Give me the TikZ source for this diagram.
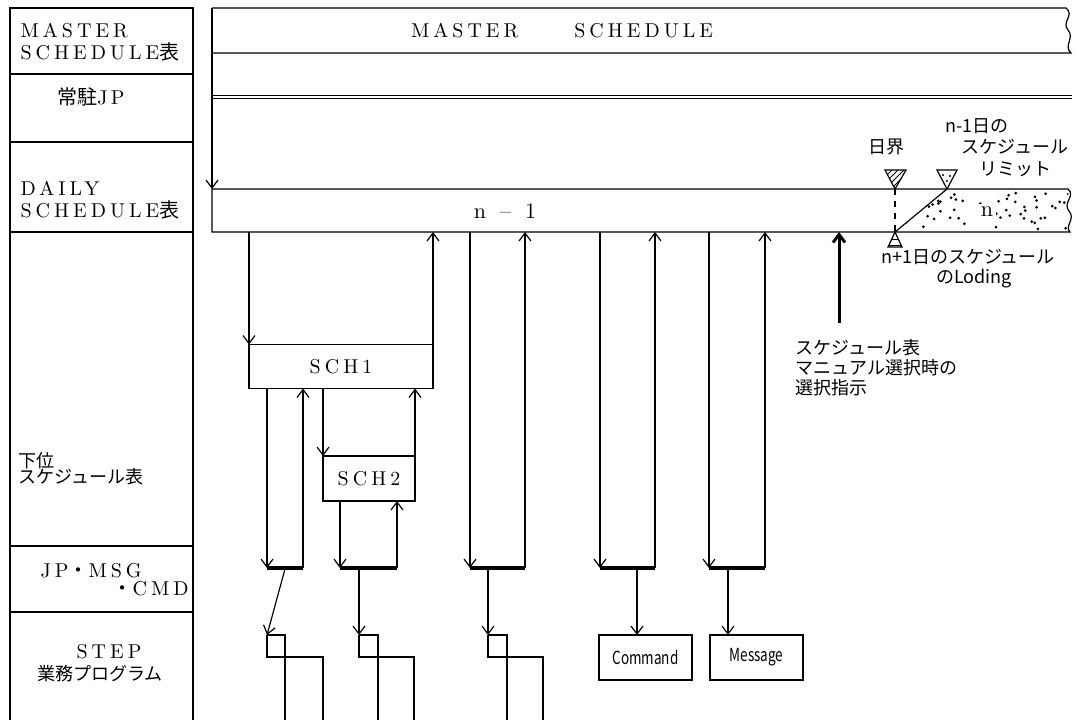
\documentclass[tikz,border=0pt]{standalone}
\usepackage{fontspec}
\usepackage{graphicx}
\usetikzlibrary{arrows.meta,patterns}
\setmainfont{Latin Modern Roman}
\newfontfamily\jp{Noto Sans CJK JP}
\newcommand\ls{\addfontfeatures{LetterSpace=20}}
\newcommand\jps{\jp\fontsize{9}{10}\selectfont}
\tikzset{
  arr/.style={-{Straight Barb[length=4pt,width=6pt]}},
  bar/.style={line width=2pt},
  lbl/.style={inner sep=0pt, font=\fontsize{10}{11}\selectfont\ls},
  jtxt/.style={inner sep=0pt, font=\jps},
  schbox/.style={draw, inner sep=0pt, outer sep=0pt, minimum width=#1,
    minimum height=22pt, font=\fontsize{10}{11}\selectfont\ls},
  outbox/.style={draw, inner sep=0pt, outer sep=0pt, minimum width=46.5pt,
    minimum height=22.5pt, font=\jp\fontsize{9}{10}\selectfont},
}
\begin{document}
\begin{tikzpicture}[x=0.5pt, y=-0.5pt, line width=0.6pt]
  \useasboundingbox (0,0) rectangle (1079,720);
  % Left: row titles
  \draw (10,720) -- (10,8) -- (193,8) -- (193,720);
  \foreach \y in {74,142,232,546,612} \draw (10,\y) -- (193,\y);
  \node[lbl, anchor=west] (lmaster1) at (20,31) {MASTER};
  \node[lbl, anchor=west] (lmaster2) at (20,52) {SCHEDULE{\jp 表}};
  \node[lbl] (ljp) at (91,97) {{\jp 常駐}J\,P};
  \node[lbl, anchor=west] (ldaily1) at (20,188) {DAILY};
  \node[lbl, anchor=west] (ldaily2) at (20,210) {SCHEDULE{\jp 表}};
  \node[jtxt, anchor=west] (lsub1) at (18,461) {下位};
  \node[jtxt, anchor=west] (lsub2) at (18,477) {スケジュール表};
  \node[lbl, anchor=west] (lmsg1) at (40,571) {JP{\jp ・}MSG};
  \node[lbl, anchor=west] (lmsg2) at (112,589) {{\jp ・}CMD};
  \node[lbl] (lstep1) at (109,652) {STEP};
  \node[jtxt] (lstep2) at (100,674) {業務プログラム};

  % Master schedule and resident JP
  \coordinate (mtop) at (212,8);
  \draw (mtop) -- (1066,8) .. controls (1075,15) and (1061,22) .. (1068,30)
    .. controls (1075,38) and (1063,46) .. (1071,53) -- (212,53);
  \node[lbl] (mtitle) at (562,31) {MASTER\hspace{28pt}SCHEDULE};
  \draw[double, double distance=1pt] (212,97) -- (1072,97);

  % Daily schedule
  \node[inner sep=0pt, outer sep=0pt, minimum width=429pt, minimum height=21.5pt] (daily) at (641,210.5) {};
  \draw[arr] (mtop) -- (daily.north west);
  \draw (daily.north west) -- (1068,189) .. controls (1076,196) and (1062,203) .. (1069,211)
    .. controls (1076,219) and (1064,226) .. (1070,232) -- (daily.south west) -- cycle;
  \node[lbl, font=\fontsize{11}{12}\selectfont] (nprev) at (505,211) {n\hspace{7pt}--\hspace{7pt}1};
  \begin{scope}
    \clip (895,232) -- (947,189) -- (1068,189) -- (1070,232) -- cycle;
    \pgfmathsetseed{11}
    \foreach \i in {1,...,60} \fill ({898+rnd*172},{192+rnd*38}) circle (0.75pt);
  \end{scope}
  \draw[dashed] (895,189) -- (895,232);
  \draw (895,232) -- (947,189);
  \node[inner sep=1.5pt, fill=white, font=\fontsize{11}{12}\selectfont] (nday) at (987,212) {n};
  \draw[pattern=north east lines] (885,170) -- (906,170) -- (895,189) -- cycle;
  \draw (937,170) -- (957,170) -- (947,189) -- cycle;
  \fill (943,175) circle (0.6pt) (950,176) circle (0.6pt) (947,181) circle (0.6pt);
  \draw[pattern=horizontal lines] (895,232) -- (902,247) -- (888,247) -- cycle;
  \node[jtxt] (tday) at (886,147) {日界};
  \node[jtxt] (tlim1) at (977,126) {n-1日の};
  \node[jtxt] (tlim2) at (1015,147) {スケジュール};
  \node[jtxt] (tlim3) at (1015,169) {リミット};
  \node[jtxt] (tload1) at (968,257) {n+1日のスケジュール};
  \node[jtxt] (tload2) at (974,279) {のLoding};

  % Manual selection
  \coordinate (sel) at (839,323);
  \draw[arr, line width=1.5pt] (sel) -- (sel |- daily.south);
  \node[jtxt, align=left, anchor=west, font=\jp\fontsize{9}{10}\selectfont] (tsel) at (795,368)
    {スケジュール表\\マニュアル選択時の\\選択指示};

  % Lower schedules
  \node[schbox=92pt] (sch1) at (341,366.5) {SCH1};
  \node[schbox=46pt, minimum height=22.5pt] (sch2) at (369,478.5) {SCH2};

  % JP / MSG / CMD bars
  \foreach \l/\r [count=\i] in {267/303,340/397,470/525,600/655,709/765} {
    \coordinate (bl\i) at (\l,568);
    \coordinate (br\i) at (\r,568);
    \draw[bar] (bl\i) -- (br\i);
  }
  \draw[arr] (daily.south -| sch1.north west) -- (sch1.north west);
  \draw[arr] (sch1.north east) -- (daily.south -| sch1.north east);
  \foreach \i in {3,4,5} {
    \draw[arr] (daily.south -| bl\i) -- (bl\i);
    \draw[arr] (br\i) -- (daily.south -| br\i);
  }
  \draw[arr] (sch1.south -| bl1) -- (bl1);
  \draw[arr] (br1) -- (sch1.south -| br1);
  \draw[arr] (sch1.south -| sch2.north west) -- (sch2.north west);
  \draw[arr] (sch2.north east) -- (sch1.south -| sch2.north east);
  \draw[arr] (sch2.south -| bl2) -- (bl2);
  \draw[arr] (br2) -- (sch2.south -| br2);

  % Steps
  \foreach \l/\m/\r/\s [count=\i] in {267/285/323/285,359/378/414/359,488/507/543/488} {
    \coordinate (st\i) at (\l,635);
    \coordinate (from\i) at (\s,569);
    \draw (st\i) -- (\m,635) -- (\m,720);
    \draw (st\i) -- (\l,657) -- (\r,657) -- (\r,720);
    \draw[arr] (from\i) -- (st\i);
  }
  \node[outbox] (cmd) at (645.5,657.5) {\scalebox{0.75}[1]{Command}};
  \node[outbox] (msg) at (756.5,657.5) {\scalebox{0.75}[1]{Message}};
  \coordinate (from4) at (637,569);
  \coordinate (from5) at (728,569);
  \draw[arr] (from4) -- (from4 |- cmd.north);
  \draw[arr] (from5) -- (from5 |- msg.north);
\end{tikzpicture}
\end{document}
